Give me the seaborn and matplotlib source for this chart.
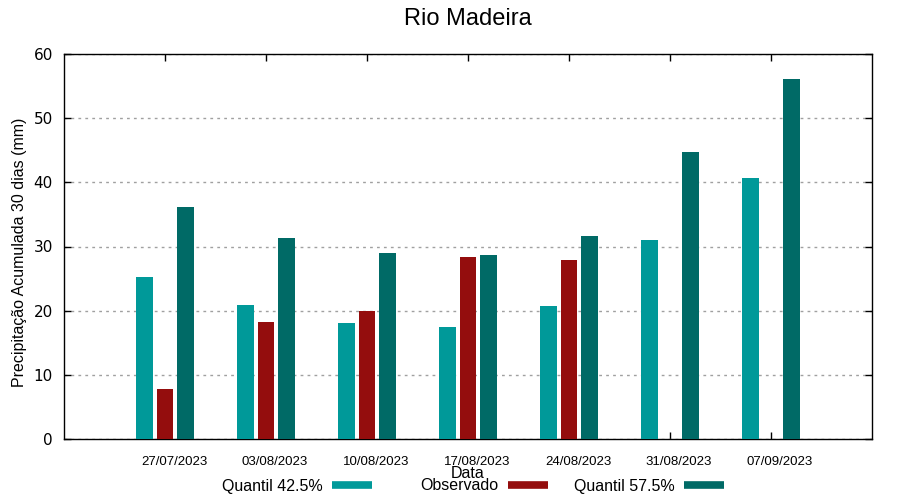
import numpy as np
import pandas as pd
import seaborn as sns
import matplotlib.pyplot as plt
from matplotlib.lines import Line2D

# data
datas = ["27/07/2023", "03/08/2023", "10/08/2023", "17/08/2023",
         "24/08/2023", "31/08/2023", "07/09/2023"]
q425 = [25.2, 20.9, 18.1, 17.4, 20.7, 31.0, 40.7]
observado = [7.8, 18.2, 19.9, 28.4, 27.9, np.nan, np.nan]
q575 = [36.1, 31.4, 29.0, 28.7, 31.7, 44.7, 56.1]

series = ["Quantil 42.5%", "Observado", "Quantil 57.5%"]
cores = ["#009999", "#940d0d", "#006a66"]

df = pd.DataFrame({
    "Data": datas * 3,
    "valor": q425 + observado + q575,
    "serie": [series[0]] * 7 + [series[1]] * 7 + [series[2]] * 7,
})

plt.rcParams['font.family'] = ['Liberation Sans', 'DejaVu Sans']

fig = plt.figure(figsize=(9, 5), dpi=100)
ax = fig.add_axes([64/900, 1-439/500, 808/900, 385/500])

sns.barplot(data=df, x="Data", y="valor", hue="serie", hue_order=series,
            palette=cores, width=0.6, gap=0.17, errorbar=None,
            saturation=1, legend=False, ax=ax, zorder=3)

ax.set_xlim(-1, 7)
ax.set_ylim(0, 60)
ax.set_yticks(range(0, 61, 10))
ax.set_yticklabels([str(v) for v in range(0, 61, 10)], fontsize=11,
                   family='DejaVu Sans')
# major ticks at the groups, labels on minor ticks shifted a bit right
ax.set_xticks(range(7))
ax.set_xticklabels([])
ax.set_xticks([i + 0.09 for i in range(7)], minor=True)
ax.set_xticklabels(datas, minor=True, fontsize=9.5)

ax.tick_params(axis='x', which='major', direction='in', top=True,
               bottom=True, length=5, width=1)
ax.tick_params(axis='x', which='minor', length=0, pad=12)
ax.tick_params(axis='y', direction='in', left=True, right=True, length=5,
               width=1, pad=8)
ax.yaxis.grid(True, color='#a0a0a0', linestyle=(0, (2, 3)), linewidth=1)
ax.set_axisbelow(True)
for s in ax.spines.values():
    s.set_color('black')
    s.set_linewidth(1)

ax.set_xlabel("")
ax.set_ylabel("")
fig.text(468/900, 1-474/500, "Data", ha='center', va='center', fontsize=11.5)
fig.text(20/900, 1-252/500, "Precipitação Acumulada 30 dias (mm)",
         rotation=90, ha='center', va='center', fontsize=11.5)
fig.text(468/900, 1-19/500, "Rio Madeira", ha='center', va='center',
         fontsize=17)

# legend entries at the bottom, text before sample
for nome, cor, xend in zip(series, cores, [372, 548, 724]):
    h = Line2D([], [], color=cor, linewidth=5.5, solid_capstyle='butt')
    fig.legend([h], [nome], loc='center right',
               bbox_to_anchor=(xend/900, 1-486/500),
               markerfirst=False, frameon=False, fontsize=11.5,
               handlelength=2.5, handletextpad=0.6, borderpad=0,
               borderaxespad=0)

fig.savefig("out.png", dpi=100)
